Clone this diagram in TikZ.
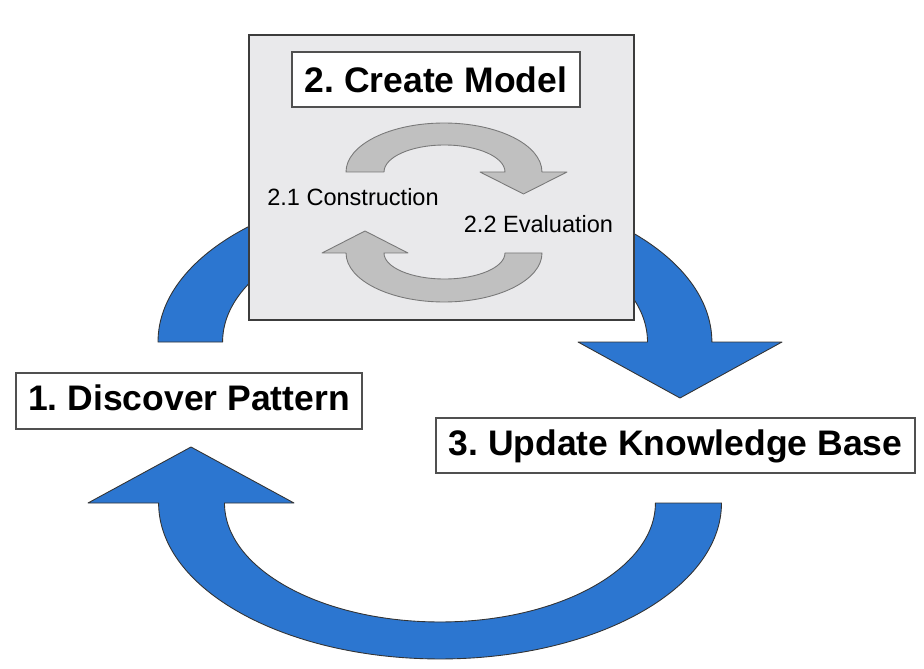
\documentclass[tikz,border=0pt]{standalone}
\usepackage{fontspec}
\setmainfont{Liberation Sans}
\frenchspacing
\definecolor{bigblue}{RGB}{44,118,208}
\definecolor{greyfill}{RGB}{192,192,192}
\definecolor{greyedge}{RGB}{120,120,120}
\definecolor{panel}{RGB}{233,233,235}
\definecolor{paneledge}{RGB}{60,60,60}
\definecolor{boxedge}{RGB}{80,80,80}
\tikzset{
  bluearrow/.style={fill=bigblue, draw=black!80, line width=0.5pt, line join=round},
  greyarrow/.style={fill=greyfill, draw=greyedge, line width=0.5pt, line join=round},
  titlebox/.style={draw=boxedge, fill=white, line width=0.9pt, inner sep=0pt,
    font=\bfseries\fontsize{20.2pt}{22pt}\selectfont, text height=14.46pt, text depth=3.4pt},
  sublabel/.style={inner sep=0pt, font=\fontsize{13.4pt}{15pt}\selectfont,
    text height=9.6pt, text depth=0pt}
}
\begin{document}
\begin{tikzpicture}[x=0.02cm, y=-0.02cm]
\useasboundingbox[fill=white] (0,0) rectangle (924,669);
% bottom blue arrow
\draw[bluearrow] (721.5,503) arc[start angle=0, end angle=-180, x radius=5.63cm, y radius=3.12cm]
  -- (88,503) -- (191,447) -- (294,503) -- (224.5,503)
  arc[start angle=180, end angle=360, x radius=4.31cm, y radius=2.38cm] -- cycle;
% top blue arrow
\draw[bluearrow] (158,342) arc[start angle=180, end angle=0, x radius=5.54cm, y radius=3.12cm]
  -- (782,342) -- (680,398) -- (578,342) -- (647.5,342)
  arc[start angle=0, end angle=180, x radius=4.25cm, y radius=2.42cm] -- cycle;
% grey panel
\node[draw=paneledge, fill=panel, line width=0.9pt, minimum width=7.7cm, minimum height=5.7cm, inner sep=0pt, anchor=north west] (panel) at (248,34) {};
% grey arrows
\draw[greyarrow] (346,172) arc[start angle=180, end angle=0, x radius=1.96cm, y radius=0.98cm]
  -- (567,172) -- (523.5,194) -- (480,172) -- (505,172)
  arc[start angle=0, end angle=180, x radius=1.21cm, y radius=0.54cm] -- cycle;
\draw[greyarrow] (542,253) arc[start angle=0, end angle=-180, x radius=1.96cm, y radius=0.98cm]
  -- (322,253) -- (365,231) -- (408,253) -- (384,253)
  arc[start angle=180, end angle=360, x radius=1.21cm, y radius=0.52cm] -- cycle;
% labels
\node[titlebox, minimum width=5.76cm, minimum height=1.1cm, text depth=0pt] (create) at (436,79.5) {2. Create Model};
\node[sublabel] (constr) at (353,197.5) {2.1 Construction};
\node[sublabel] (evalu) at (538.5,224.5) {2.2 Evaluation};
\node[titlebox, minimum width=6.92cm, minimum height=1.12cm] (discover) at (189,401) {1. Discover Pattern};
\node[titlebox, minimum width=9.58cm, minimum height=1.1cm] (update) at (675.5,445.5) {3. Update Knowledge Base};
\end{tikzpicture}
\end{document}
